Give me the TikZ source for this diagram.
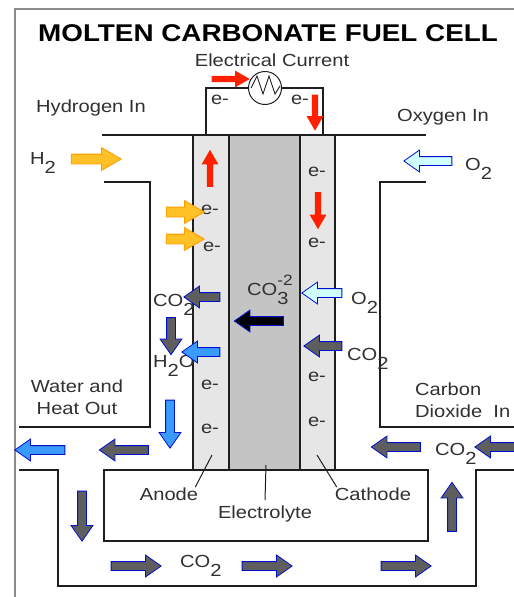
\documentclass[tikz,border=0pt]{standalone}
\usepackage{fontspec}
\setmainfont{Liberation Sans}
\usepackage{graphicx}
\usetikzlibrary{shapes.arrows}
\definecolor{wallCol}{HTML}{1E1E1E}
\definecolor{frameCol}{HTML}{8C8C8C}
\definecolor{cellLight}{HTML}{E6E6E6}
\definecolor{cellDark}{HTML}{C4C4C4}
\definecolor{hydFill}{HTML}{FFC125}
\definecolor{hydLine}{HTML}{FF9A00}
\definecolor{gasLine}{HTML}{0010D0}
\definecolor{co2Fill}{HTML}{5E5E5E}
\definecolor{waterFill}{HTML}{3A9BFF}
\definecolor{oxyFill}{HTML}{CFFFFF}
\definecolor{elecRed}{HTML}{FF2000}
\definecolor{txtCol}{HTML}{303030}
\newcommand{\wide}[1]{\scalebox{1.15}[1]{#1}}
\newcommand{\lowr}[1]{\raisebox{-.55em}{#1}}

\begin{document}
\begin{tikzpicture}[x=1pt, y=-1pt,
  wall/.style={draw=wallCol, line width=1.4pt},
  lbl/.style={text=txtCol, font=\fontsize{17.5}{22}\selectfont, inner sep=0pt},
  chem/.style={lbl, anchor=base west},
  blk/.style={single arrow, draw=gasLine, line width=.8pt, inner sep=4pt,
    minimum width=21pt, single arrow head extend=6.5pt, single arrow tip angle=70},
  len/.style={minimum height=#1pt},
  toR/.style={shape border rotate=0}, toL/.style={shape border rotate=180},
  toU/.style={shape border rotate=90}, toD/.style={shape border rotate=270},
  co2/.style={blk, fill=co2Fill},
  water/.style={blk, fill=waterFill},
  oxy/.style={blk, fill=oxyFill},
  ion/.style={blk, fill=black},
  hyd/.style={blk, fill=hydFill, draw=hydLine, inner sep=4.5pt, minimum width=21pt,
    single arrow tip angle=60},
  elec/.style={blk, fill=elecRed, draw=none, inner sep=2.7pt, minimum width=16pt,
    single arrow head extend=5.3pt, single arrow tip angle=60}]
\useasboundingbox (0,0) rectangle (514,597);
\clip (0,0) rectangle (514,597);

% frame
\draw[frameCol, line width=1.2pt] (15,600) -- (15,9) -- (520,9);

% cell layers
\fill[cellLight] (193,135) rectangle (229,470);
\fill[cellDark] (229,135) rectangle (300,470);
\fill[cellLight] (300,135) rectangle (335,470);
\foreach \x in {193,229,300,335}
  \draw[wall] (\x,135) -- (\x,470);

% channels
\draw[wall] (102,135) -- (426,135);
\draw[wall] (104,182) -- (150,182) -- (150,427) -- (19,427);
\draw[wall] (426,182) -- (380,182) -- (380,427) -- (520,427);
\draw[wall] (104,470) rectangle (428,541);
\draw[wall] (19,470) -- (58,470) -- (58,586) -- (476,586) -- (476,470) -- (520,470);

% external circuit
\node[draw=wallCol, circle, line width=1pt, minimum size=33pt, inner sep=0pt] (load) at (265,88) {};
\coordinate (wireL) at (206,135);
\coordinate (wireR) at (323,135);
\draw[wallCol, line width=1.2pt] (wireL) |- (load);
\draw[wallCol, line width=1.2pt] (load) -| (wireR);
\draw[wallCol, line width=.9pt] ([xshift=-14pt]load.center) -- ++(6,-12) -- ++(6,18)
  -- ++(6,-18) -- ++(6,18) -- ++(5,-8);

% titles
\node[font=\bfseries\fontsize{24.2}{26}\selectfont, inner sep=0pt] (title) at (268,33.5)
  {\wide{MOLTEN CARBONATE FUEL CELL}};
\node[lbl] (current) at (272,60) {\wide{Electrical Current}};
\node[lbl] (hydIn) at (91,108) {\wide{Hydrogen In}};
\node[lbl] (oxyIn) at (443,117) {\wide{Oxygen In}};
\node[lbl, align=center] (waterOut) at (77,397) {\wide{Water and}\\\wide{Heat Out}};
\node[lbl, align=left, anchor=west] (co2InLbl) at (415,400) {\wide{Carbon}\\\wide{Dioxide\ \ In}};

% electrons
\foreach \p/\n in {{(220,100)}/wA, {(300,100)}/wB,
    {(210,210)}/aA, {(212,247)}/aB, {(210,385)}/aC, {(210,429)}/aD,
    {(317,172)}/cA, {(317,243)}/cB, {(317,377)}/cC, {(317,422)}/cD}
  \node[lbl] (e\n) at \p {\wide{e-}};

% species
\node[chem] (h2) at (30,164) {\wide{H\lowr{2}}};
\node[chem] (o2In) at (465,170) {\wide{O\lowr{2}}};
\node[chem] (co2An) at (153,306) {\wide{CO\lowr{2}}};
\node[chem] (h2o) at (153,367) {\wide{H\lowr{2}O}};
\node[chem] (co3) at (247,295)
  {\wide{CO\makebox[0pt][l]{\raisebox{.55em}{\fontsize{15}{15}\selectfont -2}}\lowr{3}}};
\node[chem] (o2Cat) at (351,304) {\wide{O\lowr{2}}};
\node[chem] (co2Cat) at (347,360) {\wide{CO\lowr{2}}};
\node[chem] (co2Out) at (435,455) {\wide{CO\lowr{2}}};
\node[chem] (co2Bot) at (180,567) {\wide{CO\lowr{2}}};

% part names
\node[lbl, anchor=base] (anodeLbl) at (169,500) {\wide{Anode}};
\node[lbl, anchor=base] (electrolyteLbl) at (265,518) {\wide{Electrolyte}};
\node[lbl, anchor=base] (cathodeLbl) at (373,500) {\wide{Cathode}};
\coordinate (anodeTip) at (212,455);
\coordinate (electrolyteTip) at (266,465);
\coordinate (cathodeTip) at (317,455);
\draw[wallCol, line width=1pt] (anodeTip) -- ([xshift=-3pt]anodeLbl.north east);
\draw[wallCol, line width=1pt] (electrolyteTip) -- ([yshift=5pt]electrolyteLbl.north);
\draw[wallCol, line width=1pt] (cathodeTip) -- ([xshift=2pt]cathodeLbl.north west);

% gas flow arrows
\node[hyd, len=50, toR] (h2Arr) at (92,159) {};
\node[hyd, len=38, toR] (eArrA) at (181,212) {};
\node[hyd, len=38, toR] (eArrB) at (181,239) {};
\node[oxy, len=48, toL] (o2InArr) at (431,161) {};
\node[oxy, len=40, toL] (o2CatArr) at (325,293) {};
\node[ion, len=49, toL] (co3Arr) at (262,321) {};
\node[co2, len=36, toL] (co2AnArr) at (205,297) {};
\node[co2, len=37, toD] (co2DownArr) at (171,333) {};
\node[water, len=38, toL] (h2oAnArr) at (204,352) {};
\node[co2, len=38, toL] (co2CatArr) at (326,346) {};
\node[water, len=48, toD] (h2oDownArr) at (170,421) {};
\node[water, len=50, toL] (h2oOutArr) at (43,450) {};
\node[co2, len=49, toL] (co2OutArr) at (127,450) {};
\node[co2, len=49, toL] (co2InArrA) at (399,447) {};
\node[co2, len=50, toL] (co2InArrB) at (503,447) {};
\node[co2, len=50, toD] (co2LeftArr) at (82,513) {};
\node[co2, len=49, toU] (co2RightArr) at (452,510) {};
\foreach \x/\n in {133/A, 264/B, 403/C}
  \node[co2, len=50, toR] (co2Bot\n) at (\x,566) {};

% electron arrows
\node[elec, len=38, toR] (eTopArr) at (228,79) {};
\node[elec, len=36, toD] (eWireArr) at (315,110) {};
\node[elec, len=37, toU] (eAnodeArr) at (210,171) {};
\node[elec, len=37, toD] (eCathodeArr) at (318,208) {};
\end{tikzpicture}
\end{document}
